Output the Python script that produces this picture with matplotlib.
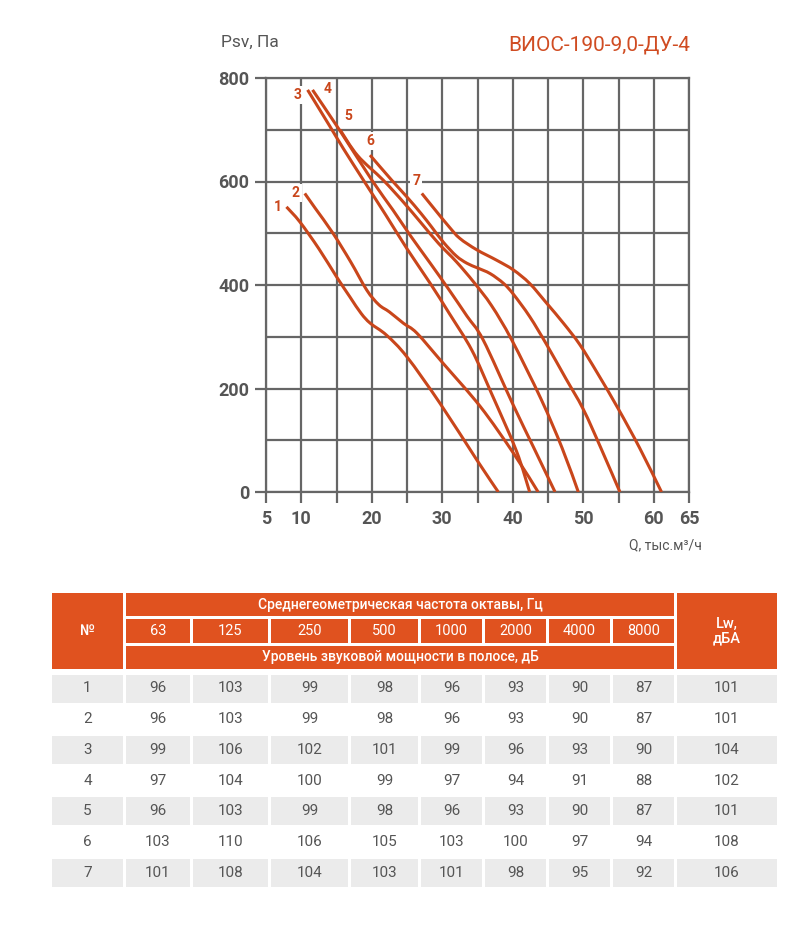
import matplotlib
matplotlib.use('Agg')
import matplotlib.pyplot as plt
from matplotlib.patches import Rectangle, PathPatch
from matplotlib.path import Path

plt.rcParams['font.family'] = ['Roboto', 'DejaVu Sans']

# fan curves: Q (thousand m3/h) vs Psv (Pa)
q1 = [7.9, 9.8, 12.5, 15.0, 16.9, 18.5, 19.8, 22.1, 25.0, 29.7, 34.9, 37.95]
p1 = [551, 522, 470, 416, 377, 345, 326, 303, 261, 171, 62, 0]
q2 = [10.5, 12.0, 14.5, 17.0, 19.3, 21.0, 22.5, 24.5, 26.4, 30.1, 35.4, 40.1, 43.6]
p2 = [577, 548, 500, 445, 390, 362, 348, 326, 307, 249, 165, 75, 0]
q3 = [10.9, 14.0, 16.0, 18.8, 22.0, 25.0, 28.3, 31.0, 34.2, 37.0, 40.5, 42.4]
p3 = [777, 708, 663, 603, 535, 470, 403, 345, 274, 190, 80, 0]
q4 = [11.6, 15.5, 20.0, 23.0, 25.5, 28.3, 31.0, 33.5, 35.8, 40.0, 43.0, 46.0]
p4 = [777, 698, 603, 545, 495, 442, 390, 340, 294, 170, 85, 0]
q5 = [15.5, 18.0, 21.6, 24.5, 27.0, 29.5, 32.0, 34.5, 37.0, 39.85, 44.0, 47.0, 49.3]
p5 = [700, 650, 603, 560, 520, 480, 445, 405, 360, 294, 180, 85, 0]
q6 = [19.75, 22.8, 25.0, 27.0, 28.5, 30.2, 32.0, 33.5, 35.0, 36.8, 38.7, 40.1, 42.4, 44.8, 47.5, 50.0, 52.5, 55.2]
p6 = [651, 603, 570, 538, 512, 482, 456, 442, 433, 422, 403, 382, 339, 285, 220, 160, 85, 0]
q7 = [27.1, 29.0, 31.0, 32.5, 34.9, 37.7, 40.1, 42.4, 44.8, 47.2, 49.5, 52.0, 55.0, 58.0, 61.1]
p7 = [577, 545, 512, 490, 468, 448, 429, 403, 365, 326, 285, 230, 160, 85, 0]

curve_names = ['1', '2', '3', '4', '5', '6', '7']
label_q = [6.7, 9.25, 9.5, 13.8, 16.6, 19.8, 26.3]
label_p = [551, 578, 767, 779, 727, 678, 601]

x_ticks = [5, 10, 20, 30, 40, 50, 60, 65]
y_ticks = [0, 200, 400, 600, 800]

# noise table
freqs = ['63', '125', '250', '500', '1000', '2000', '4000', '8000']
row_ids = ['1', '2', '3', '4', '5', '6', '7']
levels = [
    [96, 103, 99, 98, 96, 93, 90, 87],
    [96, 103, 99, 98, 96, 93, 90, 87],
    [99, 106, 102, 101, 99, 96, 93, 90],
    [97, 104, 100, 99, 97, 94, 91, 88],
    [96, 103, 99, 98, 96, 93, 90, 87],
    [103, 110, 106, 105, 103, 100, 97, 94],
    [101, 108, 104, 103, 101, 98, 95, 92],
]
lw_total = [101, 101, 104, 102, 101, 108, 106]

curve_color = '#c9461b'
grid_color = '#666666'
text_gray = '#555555'
head_color = '#e0521f'


def smooth_path(xs, ys):
    # Catmull-Rom through the read points, drawn as cubic Bezier segments
    verts = [(xs[0], ys[0])]
    codes = [Path.MOVETO]
    n = len(xs)
    for i in range(n - 1):
        x0, y0 = (xs[i - 1], ys[i - 1]) if i > 0 else (xs[i], ys[i])
        x1, y1 = xs[i], ys[i]
        x2, y2 = xs[i + 1], ys[i + 1]
        x3, y3 = (xs[i + 2], ys[i + 2]) if i + 2 < n else (x2, y2)
        verts += [(x1 + (x2 - x0) / 6, y1 + (y2 - y0) / 6),
                  (x2 - (x3 - x1) / 6, y2 - (y3 - y1) / 6),
                  (x2, y2)]
        codes += [Path.CURVE4] * 3
    return Path(verts, codes)


fig = plt.figure(figsize=(8.1, 9.42), dpi=100)

# ---------------- chart ----------------
ax = fig.add_axes([266 / 810, 1 - 492 / 942, 423 / 810, 414 / 942])
ax.set_xlim(5, 65)
ax.set_ylim(0, 800)

curves = [(q1, p1), (q2, p2), (q3, p3), (q4, p4), (q5, p5), (q6, p6), (q7, p7)]
for q, p in curves:
    ax.add_patch(PathPatch(smooth_path(q, p), fc='none', ec=curve_color, lw=2.2,
                           capstyle='butt', zorder=3))

for name, lq, lp in zip(curve_names, label_q, label_p):
    ax.text(lq, lp, name, color=curve_color, fontsize=10, fontweight='bold',
            ha='center', va='center', zorder=4,
            bbox=dict(boxstyle='square,pad=0.15', fc='white', ec='none'))

ax.set_xticks(range(5, 66, 5))
ax.set_xticklabels([str(v) if v in x_ticks else '' for v in range(5, 66, 5)])
ax.set_yticks(y_ticks)
ax.set_yticks(range(100, 800, 200), minor=True)
ax.tick_params(axis='both', which='major', length=8, width=1.6, color=grid_color,
               labelsize=13, labelcolor=text_gray)
ax.tick_params(axis='x', which='major', pad=5)
ax.tick_params(axis='y', which='major', pad=4)
ax.tick_params(axis='y', which='minor', length=0)
for lab in ax.get_xticklabels() + ax.get_yticklabels():
    lab.set_fontweight('bold')
ax.grid(True, which='both', color=grid_color, lw=1.6, zorder=1)
ax.set_axisbelow(True)
for s in ax.spines.values():
    s.set_color(grid_color)
    s.set_linewidth(1.6)

fig.text(221 / 810, 1 - 42 / 942, 'Psv, Па', fontsize=12.5, color=text_gray,
         ha='left', va='center')
fig.text(690 / 810, 1 - 45 / 942, 'ВИОС-190-9,0-ДУ-4', fontsize=15,
         color='#d04c22', ha='right', va='center')
fig.text(702 / 810, 1 - 545 / 942, 'Q, тыс.м³/ч', fontsize=10, color=text_gray,
         ha='right', va='center')

# ---------------- table ----------------
tab = fig.add_axes([0, 0, 1, 1])
tab.set_xlim(0, 810)
tab.set_ylim(942, 0)
tab.axis('off')

col_x = [52, 126, 193, 271, 351, 421, 485, 549, 613, 677]
col_r = [123, 190, 268, 348, 418, 482, 546, 610, 674, 777]


def cell(x0, x1, y0, y1, fc):
    tab.add_patch(Rectangle((x0, y0), x1 - x0, y1 - y0, fc=fc, ec='none'))


# header
cell(col_x[0], col_r[0], 593, 669, head_color)
tab.text((col_x[0] + col_r[0]) / 2, 631, '№', color='white', fontsize=10.5,
         ha='center', va='center', fontweight='medium')
cell(col_x[1], col_r[8], 593, 616, head_color)
tab.text((col_x[1] + col_r[8]) / 2, 604.5, 'Среднегеометрическая частота октавы, Гц',
         color='white', fontsize=10, ha='center', va='center', fontweight='medium')
for i, f in enumerate(freqs):
    cell(col_x[i + 1], col_r[i + 1], 619, 643, head_color)
    tab.text((col_x[i + 1] + col_r[i + 1]) / 2, 631, f, color='white', fontsize=10.5,
             ha='center', va='center')
cell(col_x[1], col_r[8], 646, 669, head_color)
tab.text((col_x[1] + col_r[8]) / 2, 657.5, 'Уровень звуковой мощности в полосе, дБ',
         color='white', fontsize=10, ha='center', va='center', fontweight='medium')
cell(col_x[9], col_r[9], 593, 669, head_color)
tab.text((col_x[9] + col_r[9]) / 2, 631, 'Lw,\nдБА', color='white', fontsize=10.5,
         ha='center', va='center', linespacing=1.1, fontweight='medium')

# data rows
for r, rid in enumerate(row_ids):
    y0 = 674.5 + r * 30.7
    y1 = y0 + 28
    vals = [rid] + [str(v) for v in levels[r]] + [str(lw_total[r])]
    for c, v in enumerate(vals):
        if r % 2 == 0:
            cell(col_x[c], col_r[c], y0, y1, '#ebebeb')
        tab.text((col_x[c] + col_r[c]) / 2, (y0 + y1) / 2, v, color=text_gray,
                 fontsize=11, ha='center', va='center', fontweight='normal')

fig.savefig('out.png', dpi=100)
